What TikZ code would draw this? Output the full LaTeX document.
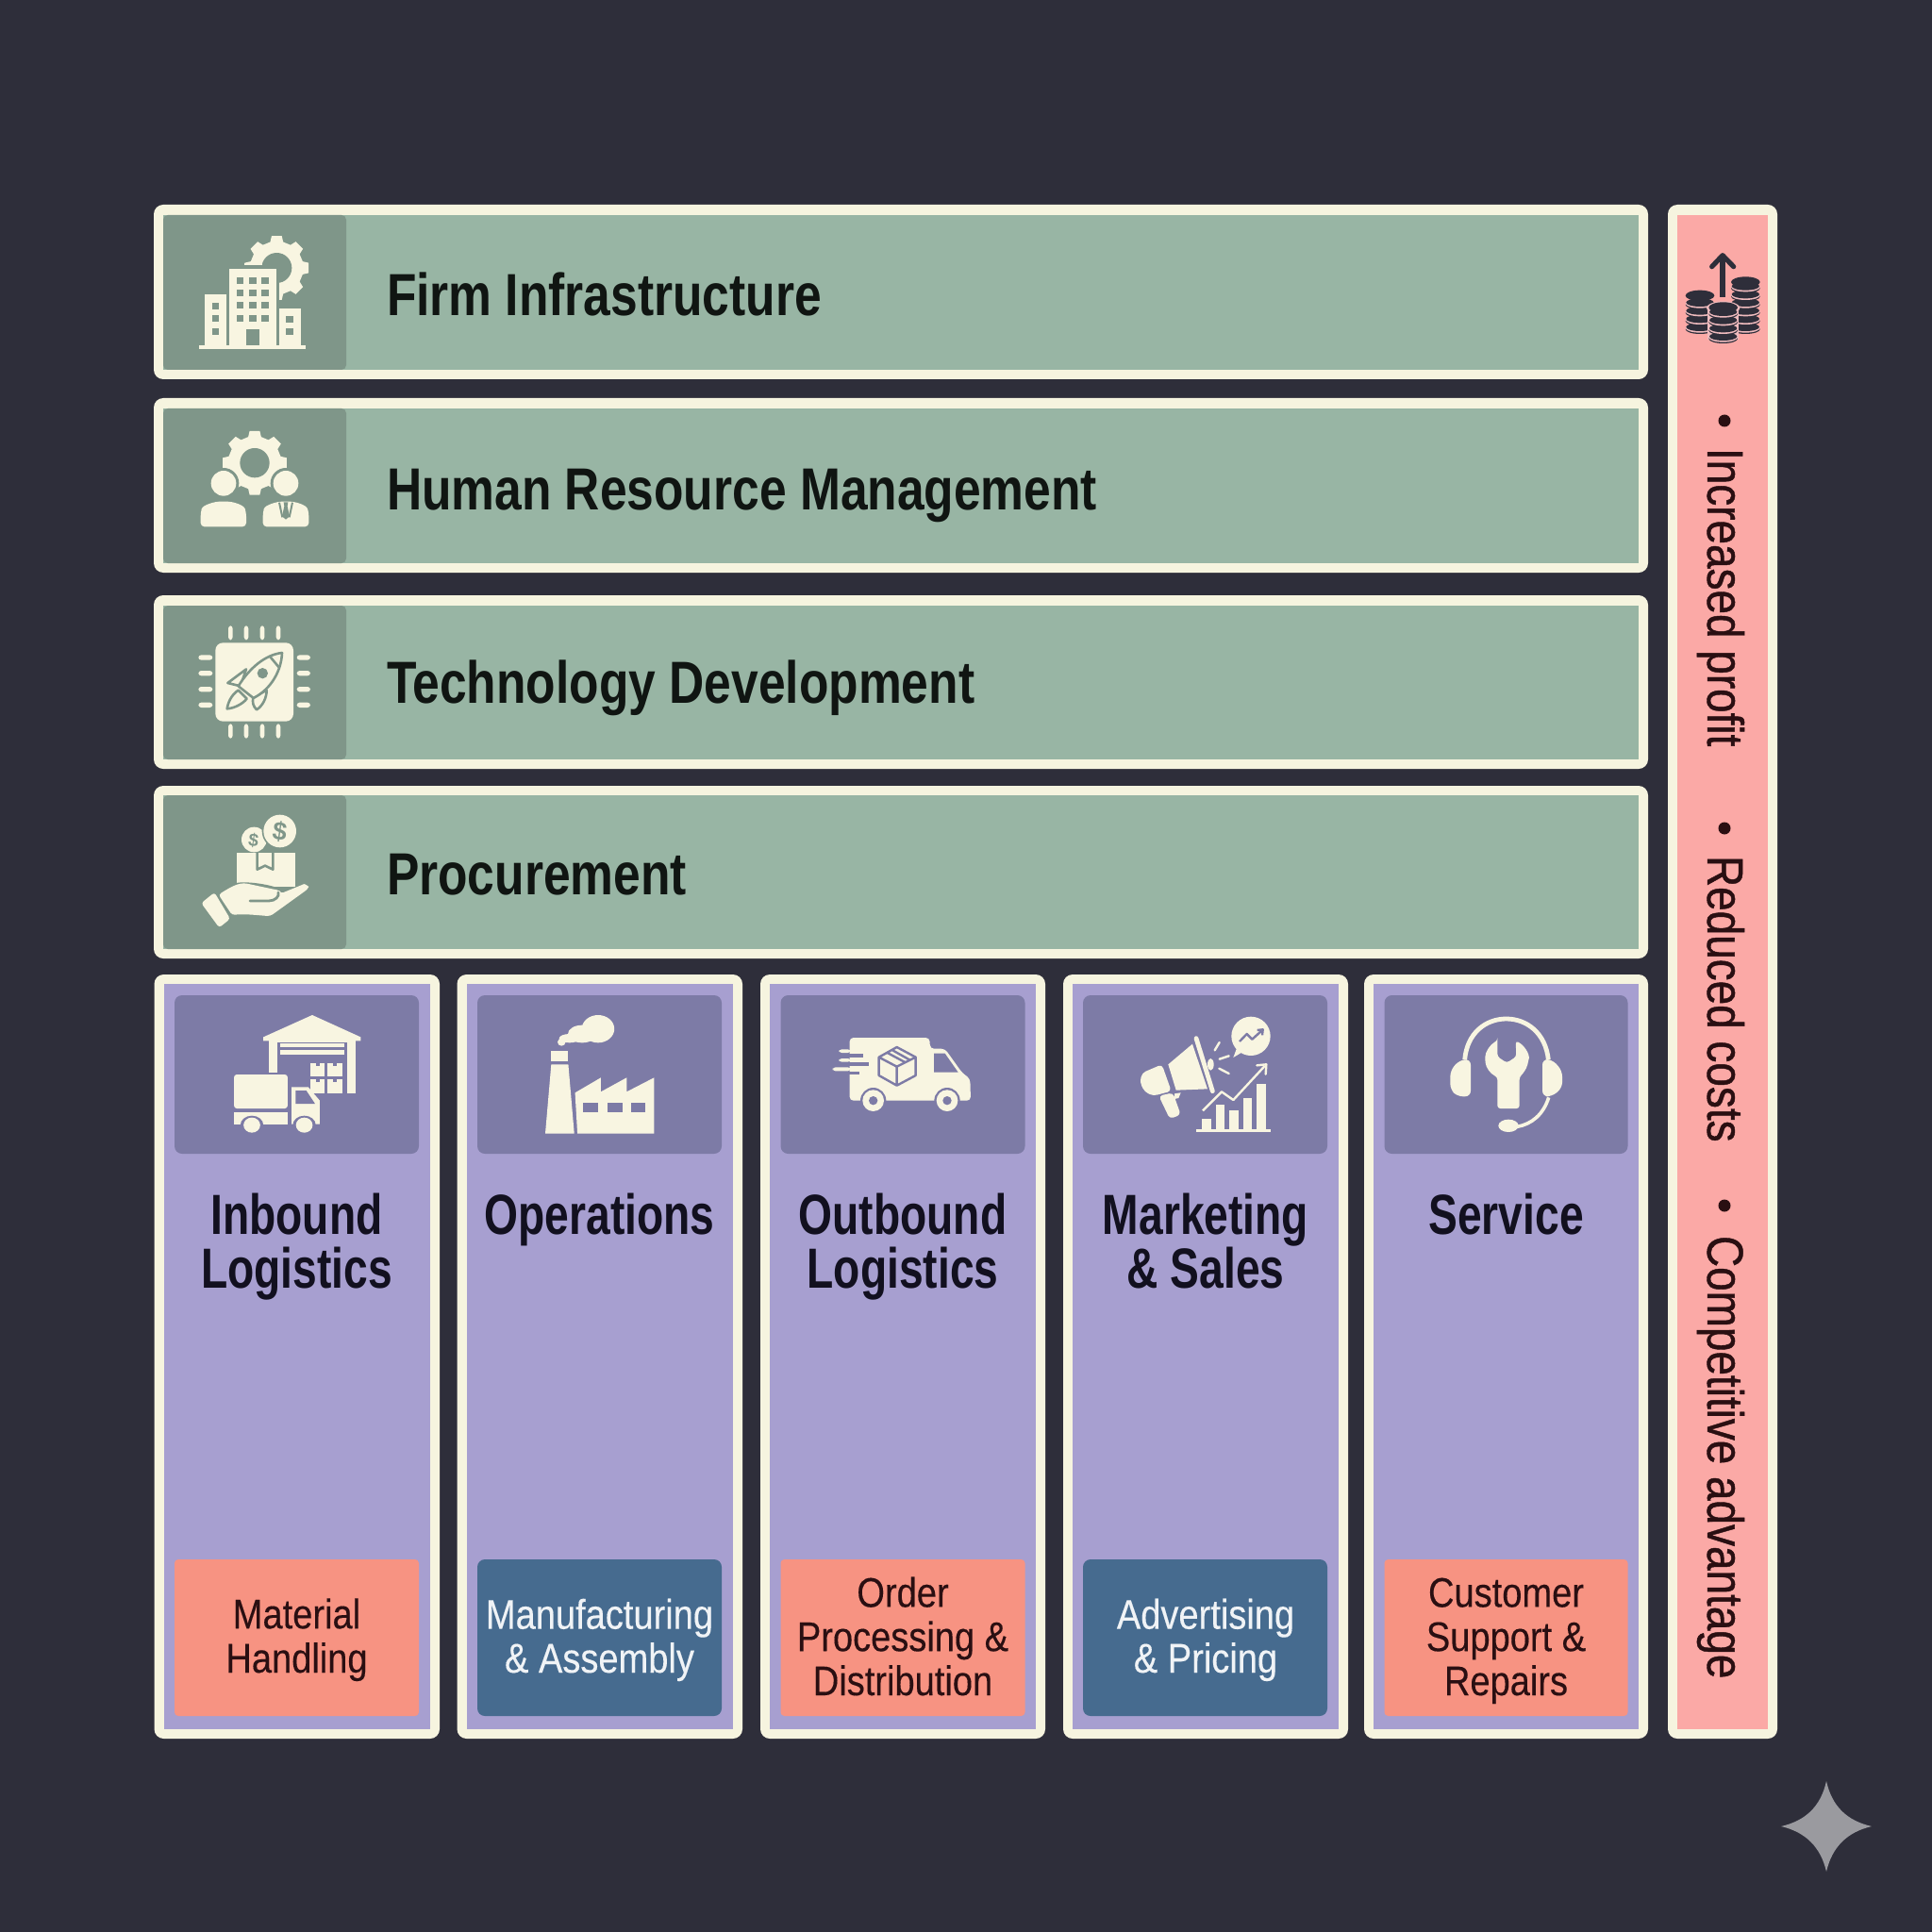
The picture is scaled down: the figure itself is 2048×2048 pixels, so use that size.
\documentclass[tikz,border=0pt]{standalone}
\usepackage{fontspec}
\setmainfont{Liberation Sans}
\newfontfamily\rowfont[FakeStretch=0.818]{Liberation Sans}
\newfontfamily\colfont[FakeStretch=0.77]{Liberation Sans}
\newfontfamily\lblfont[FakeStretch=0.865,FakeBold=0.25]{Liberation Sans}
\newfontfamily\sidefont[FakeStretch=0.85,FakeBold=0.8]{Liberation Sans}
\usetikzlibrary{fit}
\definecolor{bgdark}{HTML}{2E2E3A}
\definecolor{rim}{HTML}{F6F4DF}
\definecolor{sage}{HTML}{98B5A4}
\definecolor{sagepanel}{HTML}{7F9689}
\definecolor{lav}{HTML}{A79FD0}
\definecolor{lavpanel}{HTML}{7D7BA6}
\definecolor{salmon}{HTML}{F79382}
\definecolor{steel}{HTML}{466B8F}
\definecolor{rose}{HTML}{FBA9A6}
\definecolor{rosehalo}{HTML}{EFBBBE}
\definecolor{ink}{HTML}{101512}
\definecolor{inkpur}{HTML}{12101F}
\definecolor{inkred}{HTML}{2A0F12}
\definecolor{cream}{HTML}{F8F5E1}
\definecolor{starc}{HTML}{9A9A9F}
\tikzset{
  x=0.5pt,y=-0.5pt,
  every node/.style={inner sep=0pt,outer sep=0pt},
  rimbox/.style={fill=rim,rounded corners=5pt},
  sagebox/.style={fill=sage},
  sagetab/.style={fill=sagepanel,rounded corners=2.5pt},
  lavbox/.style={fill=lav},
  lavtab/.style={fill=lavpanel,rounded corners=4pt},
  warmtab/.style={fill=salmon,rounded corners=2pt},
  cooltab/.style={fill=steel,rounded corners=4pt},
  rosebox/.style={fill=rose},
  rowlabel/.style={anchor=base west,text=ink,font=\rowfont\bfseries\fontsize{31.5}{36}\selectfont},
  coltitle/.style={anchor=base,align=center,text=inkpur,font=\colfont\bfseries\fontsize{30}{28.5}\selectfont},
  darklabel/.style={anchor=base,align=center,text=inkred,font=\lblfont\fontsize{22}{23.4}\selectfont},
  lightlabel/.style={anchor=base,align=center,text=white!92!steel,font=\lblfont\fontsize{22}{23.2}\selectfont},
  sidelabel/.style={anchor=base west,rotate=-90,text=inkred,font=\sidefont\fontsize{27}{30}\selectfont},
  sidebullet/.style={circle,fill=inkred,minimum size=6.5pt},
  coinsign/.style={font=\bfseries,text=sagepanel},
}
\newcommand\panel[6]{\node[fit={(#3,#4)(#5,#6)},inner sep=0pt,#2] (#1) {};}
\newcommand\gearshape[5]{%
  \fill[#5] ([shift={(#1,#2)}]-14:#4)
  \foreach \a in {0,45,...,315}{ -- ([shift={(#1,#2)}]\a-14:#4) -- ([shift={(#1,#2)}]\a-9:#3) -- ([shift={(#1,#2)}]\a+9:#3) -- ([shift={(#1,#2)}]\a+14:#4)} -- cycle;}
\begin{document}
\begin{tikzpicture}
\useasboundingbox (0,0) rectangle (2048,2048);
\fill[bgdark] (0,0) rectangle (2048,2048);

% support rows
\panel{rowAout}{rimbox}{163}{217}{1747}{402}
\panel{rowA}{sagebox}{173}{228}{1737}{392}
\panel{rowAtab}{sagetab}{173}{228}{367}{392}
\panel{rowBout}{rimbox}{163}{422}{1747}{607}
\panel{rowB}{sagebox}{173}{433}{1737}{597}
\panel{rowBtab}{sagetab}{173}{433}{367}{597}
\panel{rowCout}{rimbox}{163}{631}{1747}{815}
\panel{rowC}{sagebox}{173}{642}{1737}{805}
\panel{rowCtab}{sagetab}{173}{642}{367}{805}
\panel{rowDout}{rimbox}{163}{833}{1747}{1016}
\panel{rowD}{sagebox}{173}{843}{1737}{1006}
\panel{rowDtab}{sagetab}{173}{843}{367}{1006}
\node[rowlabel] (labA) at (410,335) {Firm Infrastructure};
\node[rowlabel] (labB) at (410,540) {Human Resource Management};
\node[rowlabel] (labC) at (410,745) {Technology Development};
\node[rowlabel] (labD) at (410,948) {Procurement};

% primary columns
\panel{colAout}{rimbox}{163.5}{1033}{466}{1843}
\panel{colA}{lavbox}{174}{1043}{456}{1833}
\panel{colAtop}{lavtab}{185}{1055}{444}{1223}
\panel{colAbot}{warmtab}{185}{1653}{444}{1819}
\panel{colBout}{rimbox}{484.5}{1033}{787}{1843}
\panel{colB}{lavbox}{495}{1043}{777}{1833}
\panel{colBtop}{lavtab}{506}{1055}{765}{1223}
\panel{colBbot}{cooltab}{506}{1653}{765}{1819}
\panel{colCout}{rimbox}{806}{1033}{1108}{1843}
\panel{colC}{lavbox}{816}{1043}{1098}{1833}
\panel{colCtop}{lavtab}{827.5}{1055}{1086.5}{1223}
\panel{colCbot}{warmtab}{827.5}{1653}{1086.5}{1819}
\panel{colDout}{rimbox}{1127}{1033}{1429}{1843}
\panel{colD}{lavbox}{1137}{1043}{1419}{1833}
\panel{colDtop}{lavtab}{1148}{1055}{1407}{1223}
\panel{colDbot}{cooltab}{1148}{1653}{1407}{1819}
\panel{colEout}{rimbox}{1446}{1033}{1747}{1843}
\panel{colE}{lavbox}{1456}{1043}{1737}{1833}
\panel{colEtop}{lavtab}{1467.5}{1055}{1725.5}{1223}
\panel{colEbot}{warmtab}{1467.5}{1653}{1725.5}{1819}

\node[coltitle] (tA) at (314.5,1365) {Inbound\\Logistics};
\node[coltitle] (tB) at (635.5,1308) {Operations};
\node[coltitle] (tC) at (957,1365) {Outbound\\Logistics};
\node[coltitle] (tD) at (1278,1365) {Marketing\\\& Sales};
\node[coltitle] (tE) at (1596.5,1308) {Service};

\node[darklabel] (bA) at (314.5,1773) {Material\\Handling};
\node[lightlabel] (bB) at (635.5,1773) {Manufacturing\\\& Assembly};
\node[darklabel] (bC) at (957,1797) {Order\\Processing \&\\Distribution};
\node[lightlabel] (bD) at (1278,1773) {Advertising\\\& Pricing};
\node[darklabel] (bE) at (1596.5,1797) {Customer\\Support \&\\Repairs};

% margin bar
\panel{barout}{rimbox}{1768}{217}{1884}{1843}
\panel{bar}{rosebox}{1778}{228}{1874}{1833}
\node[sidebullet] (s1) at (1828,446) {};
\node[sidelabel] (m1) at (1810,475) {Increased profit};
\node[sidebullet] (s2) at (1828,878) {};
\node[sidelabel] (m2) at (1810,907) {Reduced costs};
\node[sidebullet] (s3) at (1828,1278) {};
\node[sidelabel] (m3) at (1810,1310) {Competitive advantage};

% watermark
\fill[starc] (1936,1888) .. controls (1942,1915) and (1958,1930) .. (1984,1936)
  .. controls (1958,1942) and (1942,1958) .. (1936,1984)
  .. controls (1930,1958) and (1914,1942) .. (1888,1936)
  .. controls (1914,1930) and (1930,1915) .. (1936,1888) -- cycle;

% --- coins in margin bar
\begin{scope}[shift={(1720,200)},scale=1/3]
  \draw[bgdark,line width=2.6pt] (318,345) -- (318,212);
  \draw[bgdark,line width=2.6pt,line cap=round,line join=round] (284,248) -- (318,212) -- (353,248);
  \foreach \y in {447,421,395,369}{
    \fill[bgdark] (246,\y) ellipse [x radius=46,y radius=15];
    \fill[rosehalo] (246,\y-4) ellipse [x radius=46,y radius=15];
    \fill[bgdark] (246,\y-7) ellipse [x radius=44,y radius=13];}
  \fill[bgdark] (246,340) ellipse [x radius=46,y radius=17];
  \foreach \y in {447,421,395,369,343,317}{
    \fill[bgdark] (391,\y) ellipse [x radius=46,y radius=15];
    \fill[rosehalo] (391,\y-4) ellipse [x radius=46,y radius=15];
    \fill[bgdark] (391,\y-7) ellipse [x radius=44,y radius=13];}
  \fill[bgdark] (391,297) ellipse [x radius=46,y radius=17];
  \fill[rosehalo] (320,380) ellipse [x radius=53,y radius=22];
  \fill[rosehalo] (270,375) rectangle (370,480);
  \foreach \y in {477,451,425,399}{
    \fill[bgdark] (320,\y) ellipse [x radius=46,y radius=15];
    \fill[rosehalo] (320,\y-4) ellipse [x radius=46,y radius=15];
    \fill[bgdark] (320,\y-7) ellipse [x radius=44,y radius=13];}
  \fill[bgdark] (320,378) ellipse [x radius=46,y radius=17];
\end{scope}

% --- firm infrastructure icon
\begin{scope}[shift={(150,200)},scale=1/3]
  \gearshape{430}{252}{103}{85}{cream}
  \fill[sagepanel] (430,252) circle [radius=48];
  \fill[sagepanel] (300,243) rectangle (438,360);
  \fill[cream] (327,238) rectangle (385,243);
  \fill[cream] (183,497) rectangle (523,509);
  \fill[cream] (202,335) rectangle (269,497);
  \fill[cream] (279,255) rectangle (429,497);
  \fill[cream] (439,382) rectangle (506,497);
  \foreach \y in {363,403,443} \fill[sagepanel] (224,\y) rectangle +(23,21);
  \foreach \y in {404,443} \fill[sagepanel] (459,\y) rectangle +(23,21);
  \foreach \x in {302,342,382} \foreach \y in {281,321,361,401} \fill[sagepanel] (\x,\y) rectangle +(23,21);
  \fill[sagepanel] (332,446) rectangle (375,497);
\end{scope}

% --- HR icon
\begin{scope}[shift={(150,200)},scale=1/3]
  \gearshape{360}{872}{103}{85}{cream}
  \fill[sagepanel] (360,872) circle [radius=47];
  \fill[sagepanel] (261,937) circle [radius=49];
  \fill[sagepanel] (459,937) circle [radius=49];
  \fill[cream] (261,937) circle [radius=40];
  \fill[cream] (459,937) circle [radius=40];
  \fill[cream,rounded corners=2pt] (188,1075) -- (188,1030) .. controls (195,1005) and (235,995) .. (260,995) .. controls (290,995) and (325,1005) .. (333,1030) -- (333,1075) -- cycle;
  \fill[cream,rounded corners=2pt] (386,1075) -- (386,1030) .. controls (393,1005) and (433,995) .. (459,995) .. controls (488,995) and (524,1005) .. (532,1030) -- (532,1075) -- cycle;
  \fill[sagepanel] (452,997) -- (466,997) -- (464,1010) -- (471,1042) -- (459,1052) -- (447,1042) -- (454,1010) -- cycle;
  \draw[sagepanel,line width=1pt] (438,998) -- (448,1045) (480,998) -- (470,1045);
\end{scope}

% --- chip icon
\begin{scope}[shift={(150,620)},scale=1/3]
  \fill[cream,rounded corners=4pt] (235,184) rectangle (483,434);
  \foreach \x in {283,333,384,435} {
    \fill[cream,rounded corners=1.5pt] (\x-7,130) rectangle (\x+7,175);
    \fill[cream,rounded corners=1.5pt] (\x-7,442) rectangle (\x+7,488);}
  \foreach \y in {231,281,332,382} {
    \fill[cream,rounded corners=1.5pt] (181,\y-8) rectangle (226,\y+8);
    \fill[cream,rounded corners=1.5pt] (494,\y-8) rectangle (537,\y+8);}
  \begin{scope}[draw=sagepanel,fill=cream,line width=1.3pt,line join=round]
    \filldraw (333,268) -- (274,312) -- (315,322) -- cycle;
    \filldraw (308,335) .. controls (285,350) and (275,375) .. (272,394) .. controls (295,392) and (320,380) .. (335,362) -- cycle;
    \filldraw (398,335) .. controls (398,360) and (385,385) .. (366,397) .. controls (355,385) and (352,375) .. (355,358) -- cycle;
    \filldraw (447,216) .. controls (395,222) and (345,262) .. (308,322) -- (356,360) .. controls (415,330) and (445,270) .. (447,216) -- cycle;
    \draw (407,226) -- (437,262);
  \end{scope}
  \fill[sagepanel] (385,281) circle [radius=17];
\end{scope}

% --- procurement icon
\begin{scope}[shift={(150,620)},scale=1/3]
  \fill[cream] (358,810) circle [radius=40];
  \fill[sagepanel] (440,783) circle [radius=57];
  \fill[cream] (440,783) circle [radius=52];
  \node[coinsign,rotate=-8,font=\bfseries\fontsize{13.5}{14}\selectfont] (usdA) at (440,785) {\$};
  \node[coinsign,rotate=-8,font=\bfseries\fontsize{9.5}{10}\selectfont] (usdB) at (356,812) {\$};
  \fill[cream] (303,852) rectangle (490,960);
  \draw[sagepanel,line width=1.3pt,line join=round] (368,852) -- (368,905) -- (393,893) -- (418,905) -- (418,852);
  \fill[sagepanel] (295,950) .. controls (320,940) and (400,950) .. (440,966) -- (445,980) -- (295,990) -- cycle;
  \fill[cream,rounded corners=1.5pt] (190,1012) -- (232,978) -- (282,1062) -- (247,1090) -- cycle;
  \fill[cream,rounded corners=1.5pt] (245,985) .. controls (285,960) and (310,945) .. (345,952)
    -- (420,968) .. controls (432,970) and (440,975) .. (442,982) -- (508,955) .. controls (520,950) and (532,960) .. (528,968)
    -- (410,1053) .. controls (380,1052) and (330,1045) .. (288,1050) -- cycle;
  \draw[sagepanel,line width=1.4pt,line cap=round] (345,1005) -- (405,1005) .. controls (425,1005) and (440,990) .. (435,978);
\end{scope}

% --- warehouse + truck
\begin{scope}[shift={(150,1020)},xscale=1/2.376,yscale=1/3]
  \fill[cream] (430,168) -- (552,238) -- (552,250) -- (307,250) -- (307,238) -- cycle;
  \fill[cream] (320,250) rectangle (343,350);
  \fill[cream] (517,250) rectangle (539,417);
  \fill[cream] (343,250) rectangle (517,255);
  \fill[cream] (350,258) rectangle (510,270);
  \fill[cream] (350,280) rectangle (510,293);
  \foreach \x in {425,468} \foreach \y/\h in {320/42,372/45} {
    \fill[cream] (\x,\y) rectangle +(37,\h);
    \fill[lavpanel] (\x+15,\y) rectangle +(8,10);}
  \fill[cream,rounded corners=1.5pt] (233,465) -- (233,357) -- (368,357) -- (368,465) -- cycle;
  \fill[cream] (233,477) rectangle (368,515);
  \fill[cream] (378,397) -- (420,397) -- (449,440) -- (449,515) -- (378,515) -- cycle;
  \fill[lavpanel] (388,408) -- (415,408) -- (437,450) -- (388,450) -- cycle;
  \fill[lavpanel] (278,518) ellipse [x radius=29,y radius=30];
  \fill[lavpanel] (410,518) ellipse [x radius=29,y radius=30];
  \fill[cream] (278,518) ellipse [x radius=21,y radius=24];
  \fill[cream] (410,518) ellipse [x radius=21,y radius=24];
\end{scope}

% --- factory
\begin{scope}[shift={(150,1020)},xscale=1/2.376,yscale=1/3]
  \fill[cream] (1150,212) ellipse [x radius=41,y radius=44];
  \fill[cream] (1110,228) ellipse [x radius=36,y radius=28];
  \fill[cream] (1078,242) ellipse [x radius=26,y radius=14];
  \fill[cream] (1058,254) ellipse [x radius=10,y radius=12];
  \fill[cream] (1032,282) rectangle (1075,315);
  \fill[cream] (1032,325) -- (1075,325) -- (1090,545) -- (1017,545) -- cycle;
  \fill[cream] (1098,545) -- (1092,415) -- (1157,367) -- (1157,412) -- (1222,367) -- (1222,412) -- (1291,367) -- (1291,545) -- cycle;
  \foreach \x in {1112,1173,1232} \fill[lavpanel] (\x,448) rectangle +(38,30);
\end{scope}

% --- van
\begin{scope}[shift={(860,1060)},scale=1/3]
  \fill[cream,rounded corners=2pt] (122,320) -- (122,120) -- (376,120) -- (378,155) -- (425,155) -- (480,232) -- (505,250) -- (507,320) -- cycle;
  \fill[lavpanel] (115,171) rectangle (165,182);
  \fill[lavpanel] (115,199) rectangle (183,210);
  \fill[lavpanel] (115,228) rectangle (152,238);
  \fill[cream,rounded corners=1.5pt] (88,157) rectangle (125,168);
  \fill[cream,rounded corners=1.5pt] (88,186) rectangle (125,197);
  \fill[cream,rounded corners=1.5pt] (68,214) rectangle (125,226);
  \fill[lavpanel] (390,170) -- (425,170) -- (467,230) -- (390,230) -- cycle;
  \foreach \x in {197,432} {
    \fill[lavpanel] (\x,320) circle [radius=41];
    \fill[cream] (\x,320) circle [radius=34];
    \fill[lavpanel] (\x,320) circle [radius=14];}
  \draw[lavpanel,line width=1.2pt,line join=round] (272,150) -- (332,182) -- (332,240) -- (272,272) -- (215,240) -- (215,182) -- cycle
    (215,182) -- (272,212) -- (332,182) (272,212) -- (272,272) (240,167) -- (298,198) (255,158) -- (312,190);
\end{scope}

% --- megaphone + chart
\begin{scope}[shift={(1190,1060)},scale=1/3]
  \fill[cream,rounded corners=2pt] (115,305) -- (160,295) -- (185,365) -- (150,378) -- cycle;
  \fill[cream] (165,298) -- (185,295) -- (178,312) -- (165,315) -- cycle;
  \fill[cream,rounded corners=2pt] (125,205) -- (62,232) -- (55,262) -- (70,292) -- (97,305) -- (155,290) -- cycle;
  \fill[cream] (145,205) -- (222,140) -- (270,283) -- (170,287) -- cycle;
  \draw[cream,line width=2.4pt,line cap=round] (234,122) -- (286,290);
  \fill[cream] (280,205) ellipse [x radius=10,y radius=19];
  \draw[cream,line width=1.2pt,line cap=round] (293,160) -- (308,135) (308,188) -- (338,178) (307,218) -- (338,234);
  \fill[cream] (408,115) circle [radius=62];
  \fill[cream] (382,165) -- (352,183) -- (365,148) -- cycle;
  \draw[lavpanel,line width=1.2pt,line join=round] (372,132) -- (395,108) -- (412,125) -- (442,98);
  \draw[lavpanel,line width=1.2pt,line join=round] (428,96) -- (446,94) -- (444,112);
  \fill[cream] (235,410) rectangle (470,420);
  \fill[cream] (253,378) rectangle (281,410);
  \fill[cream] (297,332) rectangle (325,410);
  \fill[cream] (340,352) rectangle (368,410);
  \fill[cream] (383,313) rectangle (411,410);
  \fill[cream] (427,267) rectangle (455,410);
  \draw[lavpanel,line width=2.2pt,line join=round] (258,348) -- (315,292) -- (352,318) -- (445,218);
  \draw[cream,line width=1.2pt,line join=round] (255,352) -- (315,292) -- (352,318) -- (452,210);
  \draw[cream,line width=1.2pt,line join=round,line cap=round] (427,208) -- (457,205) -- (455,236);
\end{scope}

% --- headset + wrench
\begin{scope}[shift={(1500,1060)},scale=1/3]
  \draw[cream,line width=2.4pt] (158,190) .. controls (165,105) and (225,60) .. (290,60) .. controls (355,60) and (415,105) .. (424,190);
  \fill[cream,rounded corners=3pt] (177,188) -- (140,192) -- (112,225) -- (112,285) -- (135,307) -- (177,307) -- cycle;
  \fill[cream,rounded corners=3pt] (405,188) -- (437,190) -- (468,225) -- (468,280) -- (435,307) -- (405,307) -- cycle;
  \draw[cream,line width=1.8pt] (425,310) .. controls (408,365) and (370,395) .. (325,403);
  \fill[cream] (297,400) ellipse [x radius=32,y radius=20];
  \fill[cream,rounded corners=1.5pt] (262,130) -- (262,180) -- (292,200) -- (322,180) -- (320,130)
    .. controls (350,145) and (365,175) .. (360,195) .. controls (355,220) and (342,235) .. (332,245)
    -- (332,345) -- (262,345) -- (262,245) .. controls (240,235) and (225,215) .. (223,190) .. controls (223,165) and (240,140) .. (262,130) -- cycle;
\end{scope}
\end{tikzpicture}
\end{document}
